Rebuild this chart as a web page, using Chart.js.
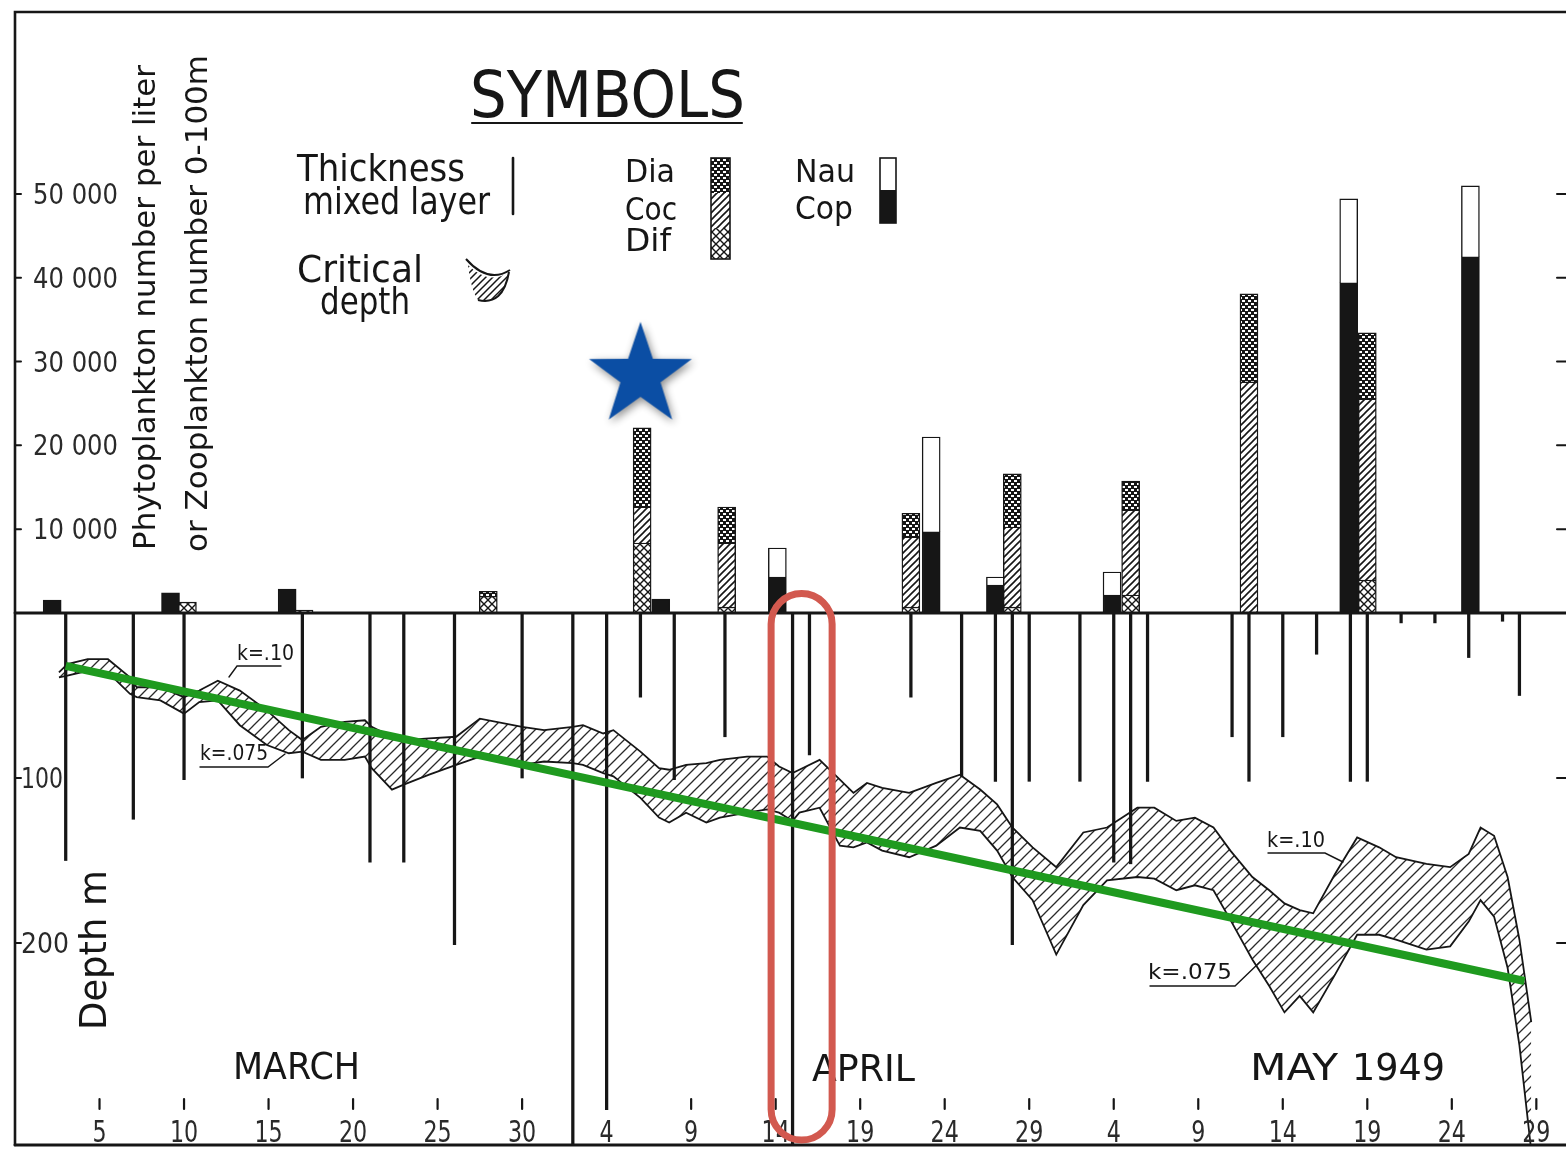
<!DOCTYPE html>
<html>
<head>
<meta charset="utf-8">
<title>Plankton and mixed layer, 1949</title>
<script src="https://cdn.jsdelivr.net/npm/chart.js@4.4.1/dist/chart.umd.min.js"></script>
<style>
  html, body { margin: 0; padding: 0; background: #fff; }
  #wrap { width: 1566px; height: 1149px; }
</style>
</head>
<body>
<div id="wrap"><canvas id="c" width="1566" height="1149"></canvas></div>
<script>
// Days are counted from 1 March 1949 (day 1 = 1 March, day 32 = 1 April, day 62 = 1 May).
const tickDays   = [5, 10, 15, 20, 25, 30, 35, 40, 45, 50, 55, 60, 65, 70, 75, 80, 85, 90];
const tickLabels = ['5','10','15','20','25','30','4','9','14','19','24','29','4','9','14','19','24','29'];

const countTicks = [10000, 20000, 30000, 40000, 50000];
const countTickLabels = ['10 000', '20 000', '30 000', '40 000', '50 000'];
const depthTicks = [100, 200];
const depthTickLabels = ['100', '200'];

// Phytoplankton (number per liter): diatoms, coccolithophores, dinoflagellates
const phytoDays = [10.2, 17.1, 28.0, 37.1, 42.1, 53.0, 59.0, 66.0, 73.0, 80.0];
const phytoDif  = [1300, 350, 2000, 8350, 700, 700, 700, 2150, 0, 3940];
const phytoCoc  = [0, 0, 0, 4300, 7650, 8370, 9560, 10140, 27570, 21600];
const phytoDia  = [0, 0, 600, 9430, 4300, 2830, 6330, 3460, 10500, 7870];

// Zooplankton (number 0-100 m): copepods and nauplii
const zooDays = [2.2, 9.2, 16.1, 38.2, 45.1, 54.2, 58.0, 64.9, 78.9, 86.1];
const zooCop  = [1550, 2400, 2860, 1650, 4300, 9670, 3340, 2150, 39380, 42480];
const zooNau  = [0, 0, 0, 0, 3450, 11330, 960, 2740, 10020, 8470];

// Thickness of the mixed layer (m) at each station
const mixDays  = [3, 7, 10, 17, 21, 23, 26, 30, 33, 35, 37, 39, 42, 46, 47, 53, 56, 58, 59, 60, 63, 65, 66, 67, 72, 73, 75, 77, 79, 80, 82, 84, 86, 88, 89];
const mixDepth = [150, 125, 101, 100, 151, 151, 201, 100, 340, 301, 51, 101, 75, 340, 86, 51, 99, 102, 201, 102, 102, 151, 152, 102, 75, 102, 75, 25, 102, 102, 6, 6, 27, 5, 50];

// Critical depth (m) for extinction coefficients k = 0.10 and k = 0.075
const bandDays = [2.6,3.1,4.3,5.5,6.8,7.2,8.6,10.0,10.9,12.0,13.3,14.9,16.2,17.0,18.1,19.5,20.7,21.1,22.3,23.0,24.5,26.1,27.5,30.0,31.3,33.0,33.6,34.8,35.4,37.0,38.1,38.7,39.7,40.9,41.7,43.3,44.5,45.2,46.0,46.4,47.6,48.8,49.6,50.4,51.3,52.9,54.5,55.9,57.1,58.1,59.0,60.2,61.6,63.2,64.6,66.4,67.4,68.7,69.8,70.9,71.9,73.2,74.2,75.1,76.0,76.8,78.1,79.4,80.7,81.7,83.5,84.9,86.0,86.7,87.5,88.3,89.0,89.7];
const critK10  = [36,31,28,28,39,45,45,51,47,41,47,59,71,77,69,66,65,69,75,77,76,75,64,69,71,69,68,73,71,84,94,95,92,91,89,87,87,93,97,95,89,101,109,103,106,109,103,98,107,116,130,142,154,133,130,118,118,126,124,130,144,160,168,176,180,182,158,136,142,148,152,154,146,130,135,160,198,248];
const critK075 = [39,38,35,36,49,51,53,61,54,53,68,80,85,84,89,89,87,94,107,104,98,92,87,92,90,91,92,97,99,112,124,127,121,127,124,121,119,121,126,121,118,141,142,139,144,148,141,130,132,144,160,174,207,177,162,160,161,168,165,168,186,210,226,242,232,242,219,195,195,198,204,202,187,174,184,215,262,326];

// Trend of the critical depth through the season
const trendDays  = [3.0, 89.3];
const trendDepth = [32, 223];

// Star marking the first phytoplankton outburst
const starDays   = [37.0];
const starCounts = [28300];

// Highlighted stations (mid April)
const highlightDays = [44.73, 48.34];
const highlightTopCount = 2330;
const highlightBottomDepth = 319.4;

const INK = '#161616';
const FONT = '"DejaVu Sans", "Liberation Sans", sans-serif';

const canvas = document.getElementById('c');
const ctx0 = canvas.getContext('2d');

function makeTile(w, h, draw) {
  const c = document.createElement('canvas');
  c.width = w; c.height = h;
  draw(c.getContext('2d'), w, h);
  return c;
}
function diag(g, w, h, dir) {
  g.beginPath();
  if (dir > 0) {
    g.moveTo(-1, h + 1); g.lineTo(w + 1, -1);
    g.moveTo(-1, 1); g.lineTo(1, -1);
    g.moveTo(w - 1, h + 1); g.lineTo(w + 1, h - 1);
  } else {
    g.moveTo(-1, -1); g.lineTo(w + 1, h + 1);
    g.moveTo(w - 1, -1); g.lineTo(w + 1, 1);
    g.moveTo(-1, h - 1); g.lineTo(1, h + 1);
  }
  g.stroke();
}
const tileDia = makeTile(6, 6, g => {
  g.fillStyle = INK; g.fillRect(0, 0, 6, 6);
  g.fillStyle = '#fff';
  g.fillRect(0, 0, 3, 2); g.fillRect(3, 3, 3, 2);
});
const tileCoc = makeTile(7, 7, (g, w, h) => {
  g.fillStyle = '#fff'; g.fillRect(0, 0, w, h);
  g.strokeStyle = INK; g.lineWidth = 1.6; diag(g, w, h, 1);
});
const tileDif = makeTile(8, 8, (g, w, h) => {
  g.fillStyle = '#fff'; g.fillRect(0, 0, w, h);
  g.strokeStyle = INK; g.lineWidth = 1.4; diag(g, w, h, 1); diag(g, w, h, -1);
});
const tileBand = makeTile(11, 11, (g, w, h) => {
  g.strokeStyle = '#2a2a2a'; g.lineWidth = 1.3; diag(g, w, h, 1);
});
const patDia = ctx0.createPattern(tileDia, 'repeat');
const patCoc = ctx0.createPattern(tileCoc, 'repeat');
const patDif = ctx0.createPattern(tileDif, 'repeat');
const patBand = ctx0.createPattern(tileBand, 'repeat');

function starImage(R, color) {
  const pad = 16, size = Math.ceil(2 * R + 2 * pad);
  const c = document.createElement('canvas');
  c.width = c.height = size;
  const g = c.getContext('2d');
  const cx = size / 2, cy = size / 2;
  g.shadowColor = 'rgba(0,0,0,0.45)';
  g.shadowBlur = 8; g.shadowOffsetX = 2; g.shadowOffsetY = 3;
  g.beginPath();
  for (let i = 0; i < 10; i++) {
    const r = i % 2 ? R * 0.39 : R;
    const a = -Math.PI / 2 + i * Math.PI / 5;
    g.lineTo(cx + r * Math.cos(a), cy + r * Math.sin(a));
  }
  g.closePath();
  g.fillStyle = color;
  g.fill();
  return c;
}

const pts = (xs, ys) => xs.map((x, i) => ({ x, y: ys[i] })).filter(p => p.y > 0);
const line = (xs, ys) => xs.map((x, i) => ({ x, y: ys[i] }));

const barCommon = {
  type: 'bar', xAxisID: 'x', yAxisID: 'yCount', grouped: false,
  barThickness: 18, borderColor: INK, borderWidth: 1.4, order: 6
};

const datasets = [
  { type: 'line', label: 'k=.10', data: line(bandDays, critK10), xAxisID: 'x', yAxisID: 'yDepth',
    borderColor: INK, borderWidth: 1.8, pointRadius: 0, tension: 0, fill: false, order: 10 },
  { type: 'line', label: 'k=.075', data: line(bandDays, critK075), xAxisID: 'x', yAxisID: 'yDepth',
    borderColor: INK, borderWidth: 1.8, pointRadius: 0, tension: 0, fill: '-1', backgroundColor: patBand, order: 10 },
  { type: 'bar', label: 'Thickness mixed layer', data: pts(mixDays, mixDepth), xAxisID: 'x', yAxisID: 'yDepth',
    grouped: false, barThickness: 2.6, backgroundColor: INK, borderWidth: 0, order: 8 },
  Object.assign({ label: 'Dif', stack: 'phyto', data: pts(phytoDays, phytoDif), backgroundColor: patDif }, barCommon),
  Object.assign({ label: 'Coc', stack: 'phyto', data: pts(phytoDays, phytoCoc), backgroundColor: patCoc }, barCommon),
  Object.assign({ label: 'Dia', stack: 'phyto', data: pts(phytoDays, phytoDia), backgroundColor: patDia }, barCommon),
  Object.assign({ label: 'Cop', stack: 'zoo', data: pts(zooDays, zooCop), backgroundColor: INK }, barCommon),
  Object.assign({ label: 'Nau', stack: 'zoo', data: pts(zooDays, zooNau), backgroundColor: '#ffffff' }, barCommon),
  { type: 'line', label: 'trend', data: line(trendDays, trendDepth), xAxisID: 'x', yAxisID: 'yDepth',
    borderColor: '#1f9a1f', borderWidth: 8, borderCapStyle: 'butt', pointRadius: 0, fill: false, order: 2 },
  { type: 'line', label: 'outburst', data: line(starDays, starCounts), xAxisID: 'x', yAxisID: 'yCount',
    showLine: false, pointStyle: starImage(54, '#0b4ea4'), pointRadius: 54, order: 1 }
];

function drawText(ctx, text, x, y, size, width, opts) {
  opts = opts || {};
  ctx.save();
  ctx.font = (opts.weight || '') + ' ' + size + 'px ' + FONT;
  const w = ctx.measureText(text).width;
  const sx = width ? width / w : (opts.sx || 1);
  ctx.translate(x, y);
  if (opts.rot) ctx.rotate(opts.rot);
  ctx.scale(sx, 1);
  ctx.textAlign = opts.align || 'left';
  ctx.textBaseline = opts.baseline || 'alphabetic';
  ctx.fillStyle = opts.color || INK;
  ctx.fillText(text, 0, 0);
  ctx.restore();
}
function seg(ctx, pts, w, color) {
  ctx.save();
  ctx.strokeStyle = color || INK;
  ctx.lineWidth = w;
  ctx.lineCap = 'round';
  ctx.beginPath();
  ctx.moveTo(pts[0], pts[1]);
  for (let i = 2; i < pts.length; i += 2) ctx.lineTo(pts[i], pts[i + 1]);
  ctx.stroke();
  ctx.restore();
}

const decorations = {
  id: 'decorations',
  afterDatasetsDraw(chart) {
    const ctx = chart.ctx;
    const a = chart.chartArea;
    const xs = chart.scales.x, yc = chart.scales.yCount, yd = chart.scales.yDepth;
    const W = chart.width;

    // frame and zero line
    seg(ctx, [a.left, a.bottom, a.left, a.top, W, a.top], 2.6);
    seg(ctx, [a.left, a.bottom, W, a.bottom], 3);
    const y0 = yd.getPixelForValue(0);
    seg(ctx, [a.left, y0, W, y0], 2.8);

    // count axis ticks and labels
    countTicks.forEach((v, i) => {
      const y = yc.getPixelForValue(v);
      seg(ctx, [a.left, y, a.left + 6, y], 2);
      seg(ctx, [W - 9, y, W, y], 2);
      drawText(ctx, countTickLabels[i], a.left + 18, y + 10, 28, 85, { color: '#2a2a2a' });
    });
    // depth axis ticks and labels
    depthTicks.forEach((v, i) => {
      const y = yd.getPixelForValue(v);
      seg(ctx, [a.left, y, a.left + 6, y], 2);
      seg(ctx, [W - 9, y, W, y], 2);
      drawText(ctx, depthTickLabels[i], a.left + 6, y + 10, 28, i ? 48 : 42, { color: '#2a2a2a' });
    });
    // time axis ticks and labels
    tickDays.forEach((d, i) => {
      const x = xs.getPixelForValue(d);
      seg(ctx, [x, a.bottom - 46, x, a.bottom - 36], 2.2);
      drawText(ctx, tickLabels[i], x, a.bottom - 3, 30, null, { align: 'center', sx: 0.74, color: '#2a2a2a' });
    });

    // month labels
    drawText(ctx, 'MARCH', 233, 1079, 38, 127);
    drawText(ctx, 'APRIL', 812, 1081, 38, 103);
    drawText(ctx, 'MAY', 1250, 1080, 38, 88);
    drawText(ctx, '1949', 1352, 1080, 38, 93);

    // axis titles
    drawText(ctx, 'Phytoplankton number per liter', 155, 550, 30, 485, { rot: -Math.PI / 2 });
    drawText(ctx, 'or Zooplankton number 0-100m', 207, 552, 30, 497, { rot: -Math.PI / 2 });
    drawText(ctx, 'Depth m', 106, 1030, 38, 160, { rot: -Math.PI / 2 });

    // critical depth labels
    drawText(ctx, 'k=.10', 237, 660, 22, 57);
    seg(ctx, [281, 666, 237, 666, 229, 677], 1.4);
    drawText(ctx, 'k=.075', 200, 760, 22, 68);
    seg(ctx, [200, 767, 268, 767, 285, 754], 1.4);
    drawText(ctx, 'k=.10', 1267, 847, 22, 58);
    seg(ctx, [1268, 853, 1325, 853, 1343, 862], 1.4);
    drawText(ctx, 'k=.075', 1148, 979, 22, 84);
    seg(ctx, [1150, 986, 1235, 986, 1260, 962], 1.4);

    // symbols block
    drawText(ctx, 'SYMBOLS', 470, 117, 64, 275);
    seg(ctx, [472, 123, 742, 123], 2.2);
    drawText(ctx, 'Thickness', 297, 181, 38, 168);
    drawText(ctx, 'mixed layer', 303, 214, 38, 187);
    seg(ctx, [513, 158, 513, 214], 2.6);
    drawText(ctx, 'Critical', 297, 282, 38, 126);
    drawText(ctx, 'depth', 320, 314, 38, 90);
    ctx.save();
    ctx.beginPath();
    ctx.moveTo(468, 265);
    ctx.quadraticCurveTo(489, 286, 509, 272);
    ctx.quadraticCurveTo(503, 306, 478, 300);
    ctx.quadraticCurveTo(471, 290, 468, 265);
    ctx.fillStyle = ctx.createPattern(makeTile(7, 7, (g, w, h) => { g.strokeStyle = INK; g.lineWidth = 1.5; diag(g, w, h, 1); }), 'repeat');
    ctx.fill();
    ctx.restore();
    ctx.save();
    ctx.strokeStyle = INK; ctx.lineWidth = 2;
    ctx.beginPath();
    ctx.moveTo(466, 259); ctx.quadraticCurveTo(488, 284, 510, 270);
    ctx.moveTo(509, 272); ctx.quadraticCurveTo(503, 306, 478, 300);
    ctx.stroke();
    ctx.restore();

    drawText(ctx, 'Dia', 625, 182, 32, 50);
    drawText(ctx, 'Coc', 625, 220, 32, 52);
    drawText(ctx, 'Dif', 625, 251, 32, 46);
    ctx.save();
    ctx.lineWidth = 1.6; ctx.strokeStyle = INK;
    ctx.fillStyle = patDia; ctx.fillRect(711, 158, 19, 35);
    ctx.fillStyle = patCoc; ctx.fillRect(711, 193, 19, 35);
    ctx.fillStyle = patDif; ctx.fillRect(711, 228, 19, 31);
    ctx.strokeRect(711, 158, 19, 101);
    ctx.fillStyle = '#fff'; ctx.fillRect(880, 158, 16, 32);
    ctx.fillStyle = INK; ctx.fillRect(880, 190, 16, 33);
    ctx.strokeRect(880, 158, 16, 65);
    ctx.restore();
    drawText(ctx, 'Nau', 795, 182, 32, 60);
    drawText(ctx, 'Cop', 795, 219, 32, 58);

    // highlighted stations
    const hx0 = xs.getPixelForValue(highlightDays[0]);
    const hx1 = xs.getPixelForValue(highlightDays[1]);
    const hy0 = yc.getPixelForValue(highlightTopCount);
    const hy1 = yd.getPixelForValue(highlightBottomDepth);
    const r = (hx1 - hx0) / 2;
    ctx.save();
    ctx.strokeStyle = '#d2594f';
    ctx.lineWidth = 7;
    ctx.beginPath();
    ctx.moveTo(hx0 + r, hy0);
    ctx.arcTo(hx1, hy0, hx1, hy1, r);
    ctx.arcTo(hx1, hy1, hx0, hy1, r);
    ctx.arcTo(hx0, hy1, hx0, hy0, r);
    ctx.arcTo(hx0, hy0, hx1, hy0, r);
    ctx.closePath();
    ctx.stroke();
    ctx.restore();
  }
};

new Chart(canvas, {
  type: 'bar',
  data: { datasets },
  options: {
    responsive: false,
    animation: false,
    devicePixelRatio: 1,
    layout: { autoPadding: false, padding: { left: 15, right: 6, top: 12, bottom: 4 } },
    plugins: { legend: { display: false }, tooltip: { enabled: false } },
    scales: {
      x: { type: 'linear', min: 0, max: 91.4, offset: false, display: false, grid: { display: false } },
      yDepth: { type: 'linear', position: 'left', stack: 'panel', stackWeight: 532, weight: 1,
                reverse: true, min: 0, max: 322.4, display: false },
      yCount: { type: 'linear', position: 'left', stack: 'panel', stackWeight: 601, weight: 2,
                min: 0, max: 71700, stacked: true, display: false }
    }
  },
  plugins: [decorations]
});
</script>
</body>
</html>
